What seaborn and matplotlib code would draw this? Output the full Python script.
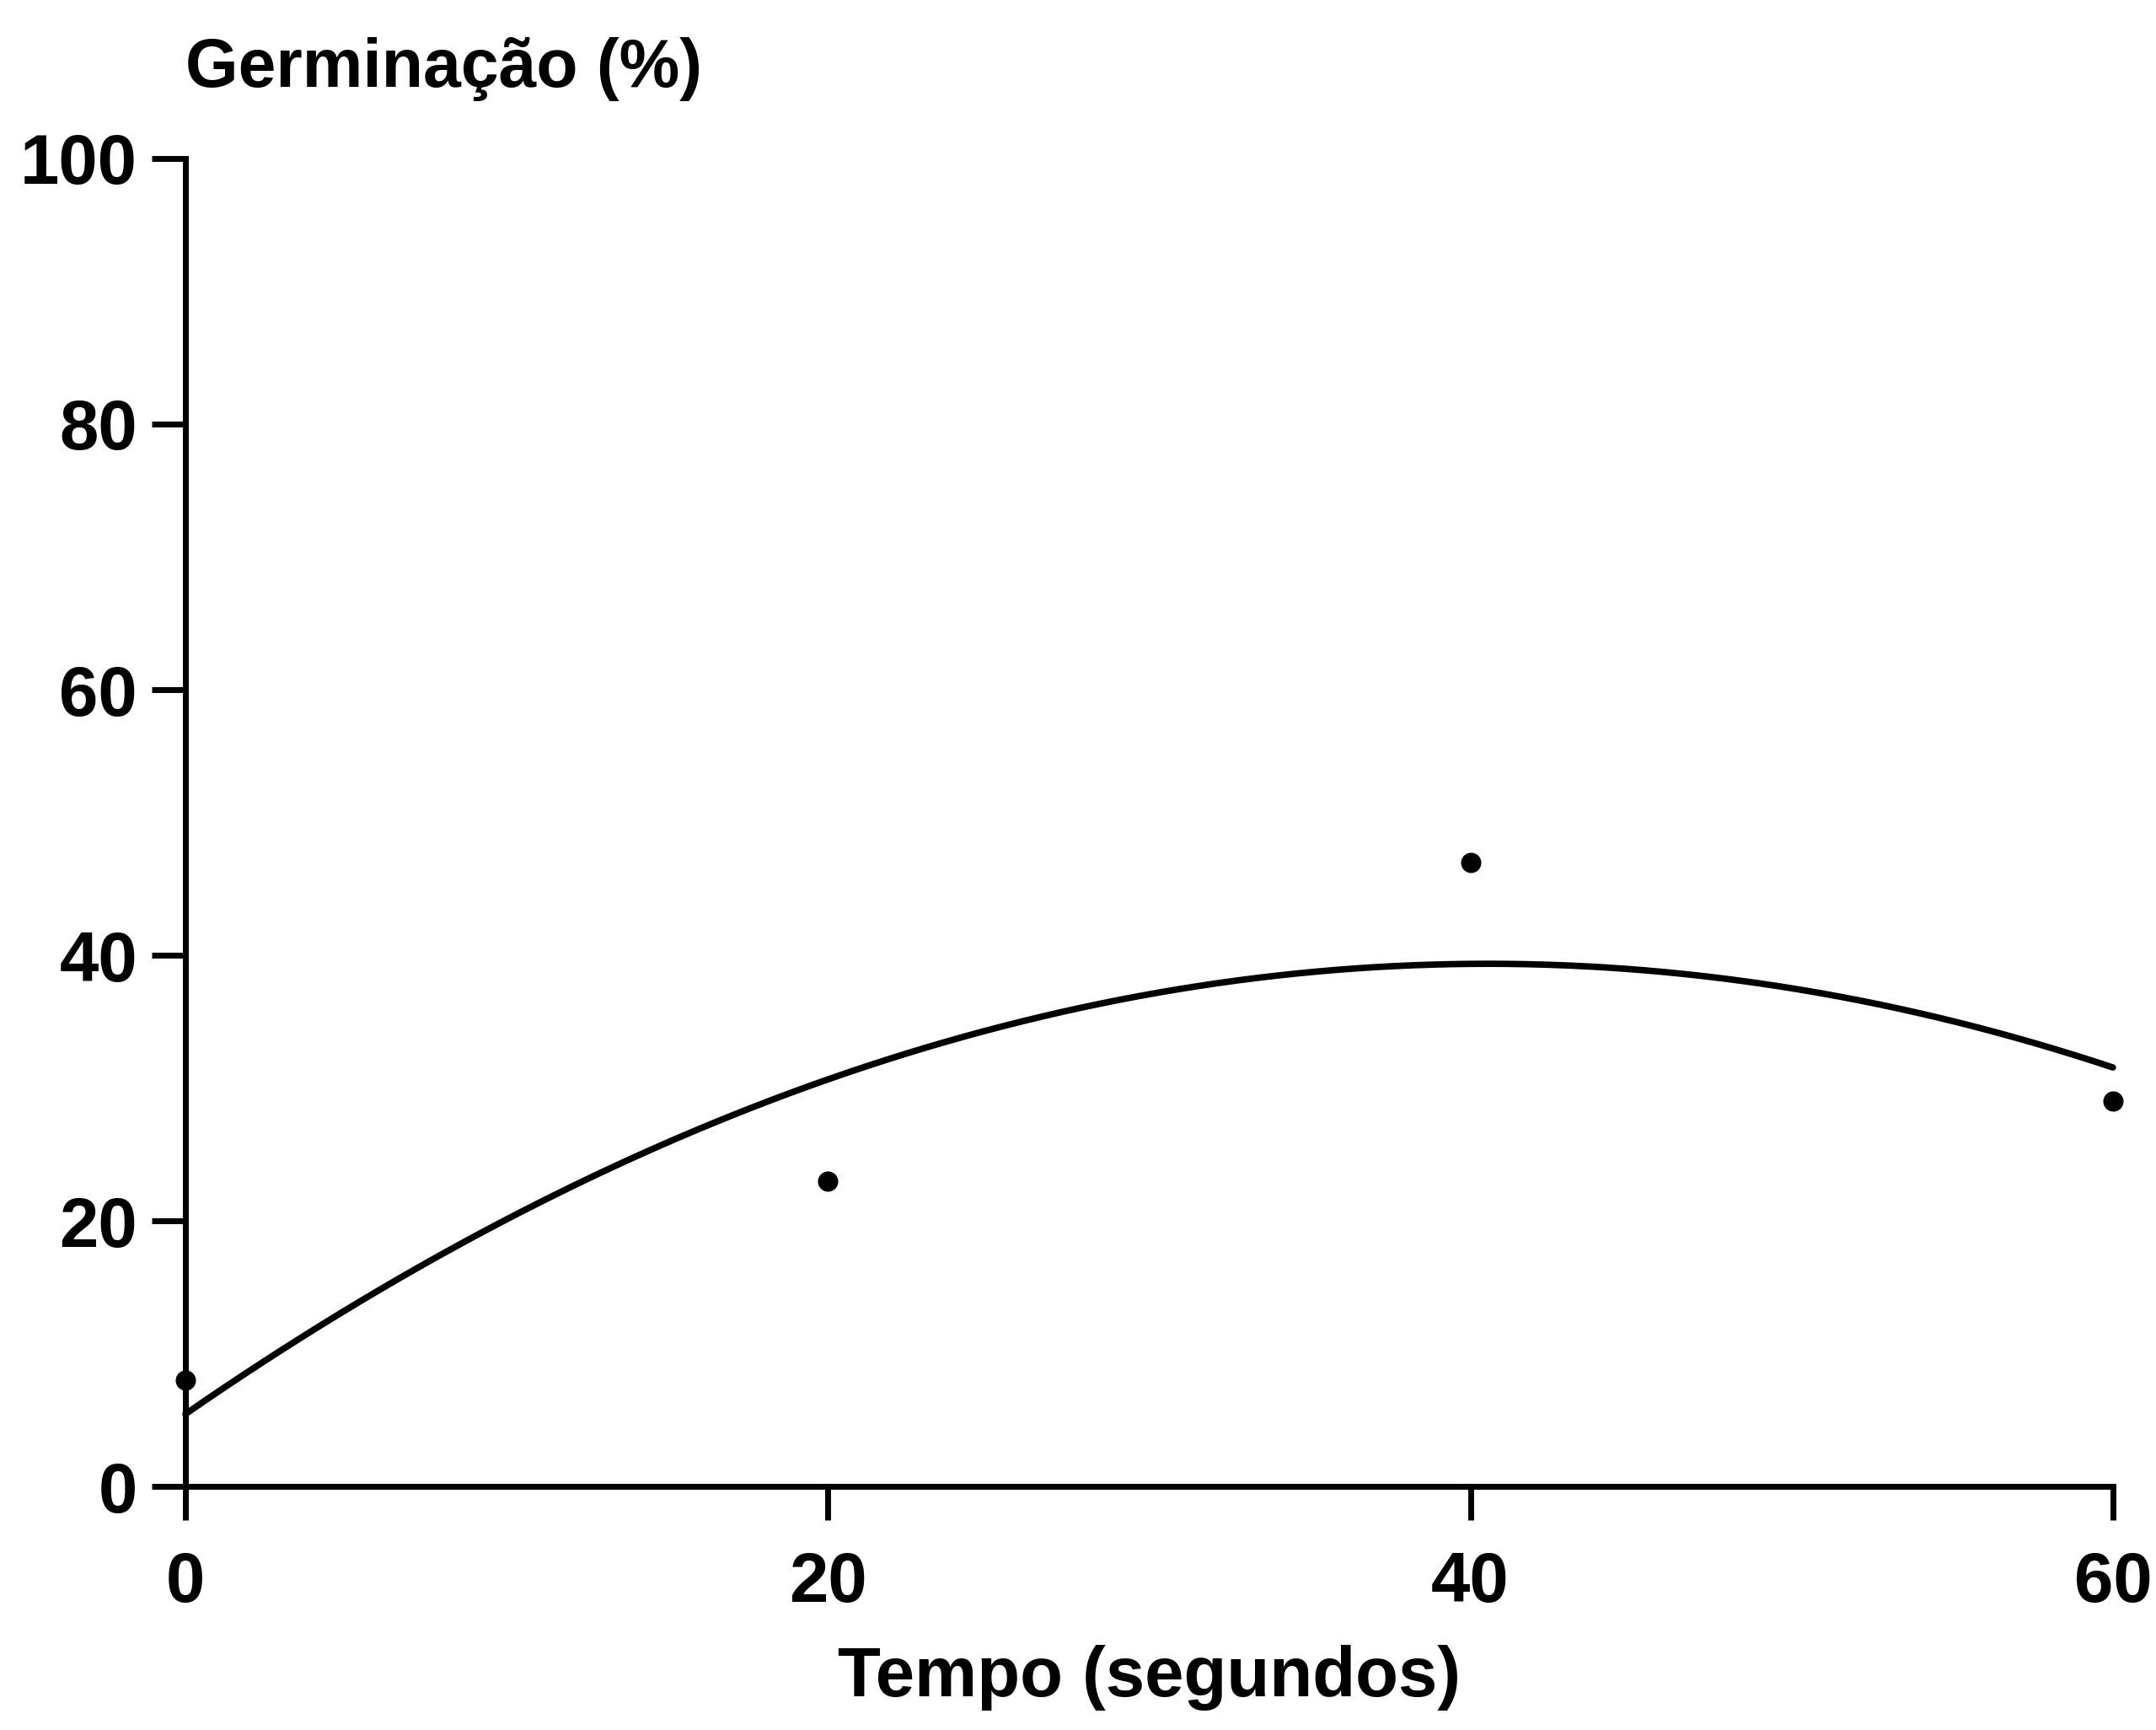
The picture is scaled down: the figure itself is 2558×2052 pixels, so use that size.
import matplotlib.pyplot as plt
import pandas as pd
import seaborn as sns

# Germination vs. exposure time
TEMPO = [0, 20, 40, 60]
GERMINACAO = [8, 23, 47, 29]
X_TICKS = [0, 20, 40, 60]
Y_TICKS = [0, 20, 40, 60, 80, 100]

sns.set_theme(style="ticks")
plt.rcParams["font.family"] = ["Liberation Sans", "DejaVu Sans"]
plt.rcParams["font.weight"] = "bold"

fig = plt.figure(figsize=(25.58, 20.52), dpi=100)
ax = fig.add_axes([0.086, 0.1408, 0.894, 0.7676])

df = pd.DataFrame({"tempo": TEMPO, "germinacao": GERMINACAO})

# quadratic fit drawn by seaborn
sns.regplot(
	data=df,
	x="tempo",
	y="germinacao",
	order=2,
	ci=None,
	color="black",
	ax=ax,
	scatter_kws=dict(s=300, alpha=1, linewidths=0, clip_on=False, zorder=5),
	line_kws=dict(lw=5.5, clip_on=False),
)

ax.set_xlim(0, 60)
ax.set_ylim(0, 100)
ax.set_xticks(X_TICKS)
ax.set_yticks(Y_TICKS)
ax.set_xlabel("")
ax.set_ylabel("")
sns.despine(ax=ax)
for side in ["left", "bottom"]:
	ax.spines[side].set_linewidth(5)
	ax.spines[side].set_color("black")

ax.tick_params(axis="both", length=29, width=5, color="black", labelsize=60, labelcolor="black")
ax.tick_params(axis="x", pad=26)
ax.tick_params(axis="y", pad=12)
for lbl in ax.get_xticklabels() + ax.get_yticklabels():
	lbl.set_fontweight("bold")

ax.text(0, 1.067, "Germinação (%)", transform=ax.transAxes, ha="left", va="center",
	fontsize=58, fontweight="bold", color="black")
ax.text(0.5, -0.144, "Tempo (segundos)", transform=ax.transAxes, ha="center", va="center",
	fontsize=60, fontweight="bold", color="black")

fig.savefig("out.png", dpi=100, facecolor="white")
